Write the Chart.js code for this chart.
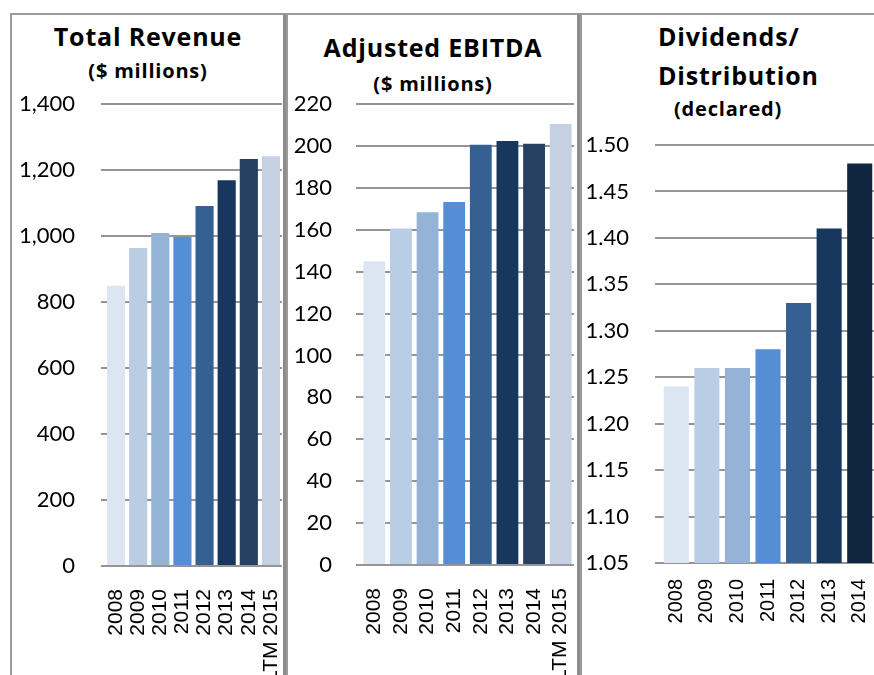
<!DOCTYPE html>
<html lang="en">
<head>
<meta charset="UTF-8">
<title>Revenue, EBITDA and Dividends</title>
<script src="https://cdn.jsdelivr.net/npm/chart.js"></script>
<style>
    html, body { margin: 0; padding: 0; background: #fff; overflow: hidden; }
    body { width: 874px; height: 675px; position: relative; font-family: "Open Sans", Lato, sans-serif; }
    .panel { position: absolute; top: 13px; height: 700px; border-top: 2px solid #9a9a9a; border-left: 2px solid #9a9a9a; box-sizing: border-box; }
    .title { position: absolute; font-weight: 700; color: #000; white-space: nowrap; line-height: 1; letter-spacing: 0.8px; }
    .big { font-size: 25px; }
    .small { font-size: 20px; }
    .chart { position: absolute; }
</style>
</head>
<body>
    <div class="panel" style="left:10px; width:276px; border-right:3px solid #8c8c8c;"></div>
    <div class="panel" style="left:286px; width:294px; border-right:3px solid #8c8c8c;"></div>
    <div class="panel" style="left:580px; width:320px;"></div>

    <div class="title big" style="left:11px; width:274px; text-align:center; top:24px;">Total Revenue</div>
    <div class="title small" style="left:11px; width:274px; text-align:center; top:61px;">($ millions)</div>

    <div class="title big" style="left:288px; width:290px; text-align:center; top:35px;">Adjusted EBITDA</div>
    <div class="title small" style="left:288px; width:290px; text-align:center; top:74px;">($ millions)</div>

    <div class="title big" style="left:658px; top:24px;">Dividends/</div>
    <div class="title big" style="left:658px; top:63px;">Distribution</div>
    <div class="title small" style="left:674px; top:99px;">(declared)</div>

    <div class="chart" style="left:13px; top:86px; width:269px; height:604px;"><canvas id="revenueChart"></canvas></div>
    <div class="chart" style="left:289px; top:86px; width:285px; height:603px;"><canvas id="ebitdaChart"></canvas></div>
    <div class="chart" style="left:582px; top:86px; width:293px; height:601px;"><canvas id="dividendChart"></canvas></div>

<script>
    // data
    const years = ['2008', '2009', '2010', '2011', '2012', '2013', '2014', 'LTM 2015'];
    const revenue = [849, 964, 1009, 997, 1091, 1169, 1233, 1242];
    const ebitda = [145, 160.6, 168.4, 173.2, 200.5, 202.4, 201, 210.5];

    const divYears = ['2008', '2009', '2010', '2011', '2012', '2013', '2014'];
    const dividends = [1.24, 1.26, 1.26, 1.28, 1.33, 1.41, 1.48];

    const barColors = ['#dce6f2', '#b9cde5', '#95b3d7', '#558ed5', '#376092', '#17375e', '#254061', '#c6d0e3'];
    const divColors = ['#dce6f2', '#b9cde5', '#95b3d7', '#558ed5', '#376092', '#17375e', '#10253f'];

    const gridColor = '#959595';

    // scales keep their fixed size and ask for no extra room at the edges
    function fixScale(s, w, h) {
        if (w != null) s.width = w;
        if (h != null) s.height = h;
        s.paddingTop = s.paddingBottom = s.paddingLeft = s.paddingRight = 0;
    }

    function makeChart(id, labels, values, colors, yOpts, cfg) {
        return new Chart(document.getElementById(id), {
            type: 'bar',
            data: {
                labels: labels,
                datasets: [{
                    data: values,
                    backgroundColor: colors,
                    borderWidth: 0,
                    barPercentage: 0.82,
                    categoryPercentage: 1.0
                }]
            },
            options: {
                responsive: true,
                maintainAspectRatio: false,
                animation: false,
                layout: { autoPadding: false, padding: { top: cfg.top, left: 0, right: 0, bottom: 0 } },
                plugins: {
                    legend: { display: false },
                    tooltip: { enabled: false }
                },
                scales: {
                    x: {
                        grid: { display: false, drawTicks: false },
                        border: { display: true, color: gridColor, width: 2 },
                        ticks: {
                            color: '#000',
                            font: { family: 'Liberation Sans', size: cfg.xFont },
                            minRotation: 90,
                            maxRotation: 90,
                            autoSkip: false,
                            padding: cfg.xPad
                        },
                        afterFit: s => fixScale(s, null, 124)
                    },
                    y: Object.assign({
                        grid: { color: gridColor, lineWidth: 2, drawTicks: true, tickLength: cfg.tick },
                        border: { display: false },
                        afterFit: s => fixScale(s, cfg.yWidth, null)
                    }, yOpts, {
                        ticks: Object.assign({
                            color: '#000',
                            font: { family: 'Lato', size: 22 },
                            padding: cfg.yPad
                        }, yOpts.ticks || {})
                    })
                }
            }
        });
    }

    makeChart('revenueChart', years, revenue, barColors,
        { min: 0, max: 1400, ticks: { stepSize: 200 } },
        { top: 18, yWidth: 92, tick: 4, yPad: 26, xFont: 21, xPad: 23 });

    makeChart('ebitdaChart', years, ebitda, barColors,
        { min: 0, max: 220, ticks: { stepSize: 20 } },
        { top: 18, yWidth: 72, tick: 5, yPad: 24, xFont: 21, xPad: 23 });

    makeChart('dividendChart', divYears, dividends, divColors,
        { min: 1.05, max: 1.5, ticks: { stepSize: 0.05, callback: v => v.toFixed(2) } },
        { top: 59, yWidth: 79, tick: 6, yPad: 26, xFont: 20, xPad: 16 });
</script>
</body>
</html>
